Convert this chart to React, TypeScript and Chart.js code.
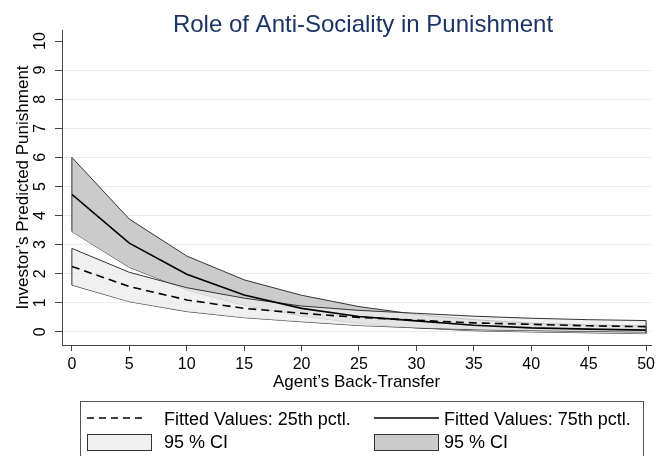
import React, { useEffect, useRef } from 'react';
import { Chart, registerables } from 'chart.js';

Chart.register(...registerables);

// ---- data ----
const transfer = [0, 5, 10, 15, 20, 25, 30, 35, 40, 45, 50];
const fit25 = [2.25, 1.56, 1.1, 0.81, 0.64, 0.5, 0.4, 0.31, 0.26, 0.21, 0.18];
const ci25Low = [1.61, 1.04, 0.7, 0.49, 0.35, 0.22, 0.14, 0.08, 0.05, 0.02, 0.0];
const ci25High = [2.87, 2.05, 1.52, 1.16, 0.89, 0.74, 0.64, 0.54, 0.47, 0.42, 0.39];
const fit75 = [4.73, 3.05, 1.98, 1.27, 0.81, 0.53, 0.38, 0.23, 0.14, 0.095, 0.06];
const ci75Low = [3.45, 2.22, 1.45, 0.92, 0.55, 0.3, 0.14, 0.04, 0.0, -0.03, -0.06];
const ci75High = [6.0, 3.88, 2.61, 1.79, 1.26, 0.87, 0.6, 0.42, 0.3, 0.24, 0.2];
const xTicks = [0, 5, 10, 15, 20, 25, 30, 35, 40, 45, 50];
const yTicks = [0, 1, 2, 3, 4, 5, 6, 7, 8, 9, 10];

const titleText = 'Role of Anti-Sociality in Punishment';
const xTitle = 'Agent\u2019s Back-Transfer';
const yTitle = 'Investor\u2019s Predicted Punishment';
const legendFit25 = 'Fitted Values: 25th pctl.';
const legendFit75 = 'Fitted Values: 75th pctl.';
const legendCI = '95 % CI';

const FONT = "'Liberation Sans', Arial, Helvetica, sans-serif";
const EDGE = '#333333';
const LIGHT_FILL = 'rgba(235,235,235,0.77)';
const LIGHT_SWATCH = '#f0f0f0';
const DARK_FILL = '#cbcbcb';
const GRID = '#e3eded';
const AXIS = '#444444';
const TITLE_COLOR = '#1a3466';

const pts = (ys: number[]) => transfer.map((x, i) => ({ x, y: ys[i] }));
const cap = (i: number, lo: number[], hi: number[]) => [
  { x: transfer[i], y: lo[i] },
  { x: transfer[i], y: hi[i] },
];

const decorPlugin = {
  id: 'decor',
  afterDraw(chart: any) {
    const ctx = chart.ctx as CanvasRenderingContext2D;
    ctx.save();
    // title
    ctx.fillStyle = TITLE_COLOR;
    ctx.font = `24px ${FONT}`;
    ctx.textAlign = 'center';
    ctx.textBaseline = 'alphabetic';
    ctx.fillText(titleText, 363, 32);

    // legend box
    ctx.strokeStyle = '#555555';
    ctx.lineWidth = 1;
    ctx.strokeRect(80.5, 401.5, 563, 90);

    // row 1 samples
    ctx.strokeStyle = '#000000';
    ctx.lineWidth = 1.5;
    ctx.setLineDash([7, 5]);
    ctx.beginPath();
    ctx.moveTo(87, 418);
    ctx.lineTo(142, 418);
    ctx.stroke();
    ctx.setLineDash([]);
    ctx.beginPath();
    ctx.moveTo(374, 418);
    ctx.lineTo(439, 418);
    ctx.stroke();

    // row 2 swatches
    ctx.lineWidth = 1;
    ctx.strokeStyle = EDGE;
    ctx.fillStyle = LIGHT_SWATCH;
    ctx.fillRect(87.5, 434.5, 64, 16);
    ctx.strokeRect(87.5, 434.5, 64, 16);
    ctx.fillStyle = DARK_FILL;
    ctx.fillRect(374.5, 434.5, 64, 16);
    ctx.strokeRect(374.5, 434.5, 64, 16);

    // legend text
    ctx.fillStyle = '#000000';
    ctx.font = `18px ${FONT}`;
    ctx.textAlign = 'left';
    ctx.fillText(legendFit25, 164, 425);
    ctx.fillText(legendFit75, 444, 425);
    ctx.fillText(legendCI, 164, 448);
    ctx.fillText(legendCI, 444, 448);
    ctx.restore();
  },
};

export default function App() {
  const canvasRef = useRef<HTMLCanvasElement | null>(null);

  useEffect(() => {
    if (!canvasRef.current) return;
    Chart.defaults.font.family = FONT;
    const edgeLine = (data: any[], extra: any = {}) => ({
      data,
      borderColor: EDGE,
      borderWidth: 1,
      pointRadius: 0,
      fill: false,
      tension: 0,
      ...extra,
    });
    const chart = new Chart(canvasRef.current, {
      type: 'line',
      data: {
        datasets: [
          edgeLine(cap(0, ci25Low, ci25High)),
          edgeLine(cap(transfer.length - 1, ci25Low, ci25High)),
          edgeLine(cap(0, ci75Low, ci75High)),
          edgeLine(cap(transfer.length - 1, ci75Low, ci75High)),
          {
            label: legendFit75,
            data: pts(fit75),
            borderColor: '#000000',
            borderWidth: 1.6,
            pointRadius: 0,
            fill: false,
            tension: 0,
          },
          {
            label: legendFit25,
            data: pts(fit25),
            borderColor: '#000000',
            borderWidth: 1.6,
            borderDash: [8, 5],
            pointRadius: 0,
            fill: false,
            tension: 0,
          },
          edgeLine(pts(ci25High), { fill: '+1', backgroundColor: LIGHT_FILL }),
          edgeLine(pts(ci25Low)),
          edgeLine(pts(ci75High), { fill: '+1', backgroundColor: DARK_FILL }),
          edgeLine(pts(ci75Low)),
        ],
      },
      options: {
        responsive: false,
        animation: false,
        layout: { padding: { top: 30, right: 2, bottom: 63, left: 0 } },
        plugins: {
          legend: { display: false },
          tooltip: { enabled: false },
          title: { display: false },
        },
        scales: {
          x: {
            type: 'linear',
            min: -0.86,
            max: 50.43,
            afterBuildTicks: (scale: any) => {
              scale.ticks = xTicks.map((v) => ({ value: v }));
            },
            afterFit: (scale: any) => {
              scale.height = 48;
            },
            ticks: {
              font: { size: 16 },
              color: '#000000',
              padding: 4,
              maxRotation: 0,
              minRotation: 0,
              autoSkip: false,
            },
            grid: {
              drawOnChartArea: false,
              drawTicks: true,
              tickLength: 6,
              tickColor: AXIS,
            },
            border: { color: AXIS, width: 1 },
            title: {
              display: true,
              text: xTitle,
              font: { size: 17 },
              color: '#000000',
              padding: { top: 0, bottom: 0 },
            },
          },
          y: {
            type: 'linear',
            min: -0.45,
            max: 10.38,
            afterBuildTicks: (scale: any) => {
              scale.ticks = yTicks.map((v) => ({ value: v }));
            },
            afterFit: (scale: any) => {
              scale.width = 62;
            },
            ticks: {
              font: { size: 16 },
              color: '#000000',
              padding: 6,
              minRotation: 90,
              maxRotation: 90,
              crossAlign: 'center',
              autoSkip: false,
            },
            grid: {
              color: (ctx: any) =>
                ctx.tick && ctx.tick.value === 10 ? 'rgba(0,0,0,0)' : GRID,
              lineWidth: 1,
              drawTicks: true,
              tickLength: 7,
              tickColor: AXIS,
            },
            border: { color: AXIS, width: 1 },
            title: {
              display: true,
              text: yTitle,
              font: { size: 17 },
              color: '#000000',
              padding: { top: 13, bottom: 0 },
            },
          },
        },
      } as any,
      plugins: [decorPlugin],
    });
    return () => chart.destroy();
  }, []);

  return (
    <div style={{ position: 'absolute', left: 0, top: 0, width: 659, height: 456, background: '#ffffff' }}>
      <canvas ref={canvasRef} width={659} height={456} style={{ display: 'block' }} />
    </div>
  );
}
